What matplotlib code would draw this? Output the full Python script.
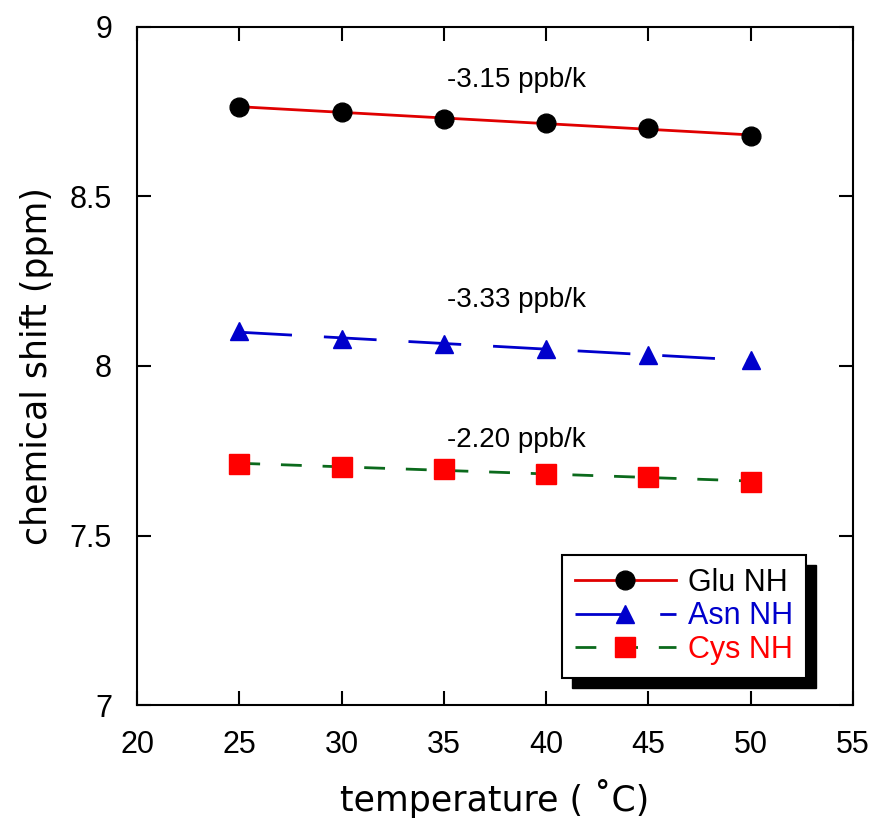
import numpy as np
import matplotlib
matplotlib.use("Agg")
import matplotlib.pyplot as plt
from matplotlib.ticker import FuncFormatter
from matplotlib.patches import Rectangle

temps = [25, 30, 35, 40, 45, 50]
glu = [8.764, 8.749, 8.729, 8.717, 8.702, 8.678]
asn = [8.103, 8.080, 8.065, 8.050, 8.032, 8.018]
cys = [7.711, 7.702, 7.696, 7.681, 7.673, 7.658]
labels = ["Glu NH", "Asn NH", "Cys NH"]
slopes = ["-3.15 ppb/k", "-3.33 ppb/k", "-2.20 ppb/k"]
slope_y = [8.845, 8.195, 7.782]

fig = plt.figure(figsize=(8.76, 8.27), dpi=100)
ax = fig.add_axes([0.1564, 0.1475, 0.8173, 0.8199])

x = np.array(temps)
lw = 2.0
series = [
    (glu, "#e00000", "-", "o", "black", 13.5),
    (asn, "#0000cc", (0, (38 / lw, 23 / lw)), "^", "#0000cc", 13.5),
    (cys, "#0b6a1c", (0, (15 / lw, 15 / lw)), "s", "#ff0000", 14),
]
handles = []
for (y, lc, ls, mk, mc, ms), lab in zip(series, labels):
    # linear fit drawn over the temperature range
    k, b = np.polyfit(x, y, 1)
    ax.plot(x, k * x + b, color=lc, lw=lw, linestyle=ls, zorder=2)
    ax.plot(x, y, linestyle="none", marker=mk, ms=ms, color=mc, zorder=3)
    h, = ax.plot([], [], color=lc, lw=lw, linestyle=ls, marker=mk, ms=ms,
                 markerfacecolor=mc, markeredgecolor=mc)
    handles.append(h)

for txt, yy in zip(slopes, slope_y):
    ax.text(35.15, yy, txt, fontsize=20, family="Liberation Sans",
            ha="left", va="center")

ax.set_xlim(20, 55)
ax.set_ylim(7, 9)
ax.set_xticks(np.arange(20, 56, 5))
ax.set_yticks(np.arange(7, 9.01, 0.5))
fmt = FuncFormatter(lambda v, p: "%g" % v)
ax.xaxis.set_major_formatter(fmt)
ax.yaxis.set_major_formatter(fmt)
ax.tick_params(direction="in", length=10, width=1.5, top=True, right=True,
               labelsize=22, pad=18)
for t in ax.get_xticklabels() + ax.get_yticklabels():
    t.set_family("Liberation Sans")
for s in ax.spines.values():
    s.set_linewidth(1.5)

ax.set_xlabel("temperature ( ˚C)", fontsize=25, family="DejaVu Sans", labelpad=14)
ax.set_ylabel("chemical shift (ppm)", fontsize=25, family="DejaVu Sans", labelpad=11)

leg = ax.legend(handles, labels, loc="lower right", bbox_to_anchor=(0.934, 0.04),
                borderaxespad=0, numpoints=1, handlelength=3.3, handletextpad=0.4,
                labelspacing=0.12, borderpad=0.42, fancybox=False, framealpha=1,
                edgecolor="black", prop={"family": "Liberation Sans", "size": 22})
leg.get_frame().set_linewidth(1.5)
for t, c in zip(leg.get_texts(), ["black", "#0000cc", "#ff0000"]):
    t.set_color(c)

fig.canvas.draw()
bb = leg.get_window_extent().transformed(fig.transFigure.inverted())
dx, dy = 10 / 876, 10 / 827
shadow = Rectangle((bb.x0 + dx, bb.y0 - dy), bb.width, bb.height,
                   transform=fig.transFigure, facecolor="black", edgecolor="black",
                   zorder=4.9, clip_on=False)
ax.add_patch(shadow)

fig.savefig("out.png", dpi=100)
